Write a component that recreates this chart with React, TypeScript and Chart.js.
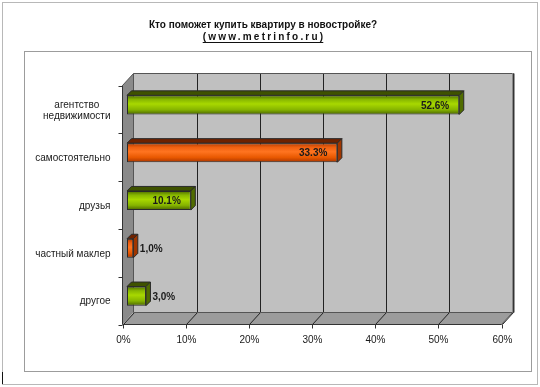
import { useEffect, useRef } from 'react';
import { Chart, registerables } from 'chart.js';

Chart.register(...registerables);

// ---- data ----
const chartTitle = 'Кто поможет купить квартиру в новостройке?';
const chartSubtitle = '(www.metrinfo.ru)';
const categories: string[][] = [
  ['агентство', 'недвижимости'],
  ['самостоятельно'],
  ['друзья'],
  ['частный маклер'],
  ['другое'],
];
const values = [52.6, 33.3, 10.1, 1.0, 3.0];
const valueLabels = ['52.6%', '33.3%', '10.1%', '1,0%', '3,0%'];
const xTickValues = [0, 10, 20, 30, 40, 50, 60];
const xTickLabels = ['0%', '10%', '20%', '30%', '40%', '50%', '60%'];

// ---- style ----
const FONT = '"Liberation Sans", Arial, sans-serif';
const barKinds = ['g', 'o', 'g', 'o', 'g'];
const greenStops: [number, string][] = [
  [0, '#4d6a00'], [0.22, '#88b800'], [0.45, '#a8d800'], [0.75, '#86b400'], [1, '#4a6400'],
];
const orangeStops: [number, string][] = [
  [0, '#b03a00'], [0.22, '#f06010'], [0.45, '#ff7420'], [0.75, '#e85800'], [1, '#a83400'],
];
const topColor: Record<string, string> = { g: '#3f5200', o: '#6e2200' };
const sideColor: Record<string, string> = { g: '#506c00', o: '#a03600' };
const BAR_OFF = { x: -4.5, y: 4.5 }; // bar plane -> front wall plane
const WALL = { x: 11, y: -12 };
const BD = { x: 4.5, y: -4.5 };

const excel3d = {
  id: 'excel3d',
  beforeDraw(chart: any) {
    const ctx = chart.ctx as CanvasRenderingContext2D;
    ctx.save();
    ctx.fillStyle = '#ffffff';
    ctx.fillRect(0, 0, chart.width, chart.height);
    ctx.lineWidth = 1;
    ctx.strokeStyle = '#b8b8b8';
    ctx.strokeRect(2.5, 2.5, 535, 382);
    ctx.strokeStyle = '#9c9c9c';
    ctx.strokeRect(24.5, 51.5, 507, 320);
    ctx.strokeStyle = '#111';
    ctx.beginPath();
    ctx.moveTo(2.5, 372);
    ctx.lineTo(2.5, 384);
    ctx.stroke();

    // title
    ctx.fillStyle = '#111';
    ctx.textAlign = 'center';
    ctx.textBaseline = 'middle';
    ctx.font = `bold 10px ${FONT}`;
    ctx.fillText(chartTitle, 263, 25);
    (ctx as any).letterSpacing = '2.2px';
    const w = ctx.measureText(chartSubtitle).width;
    ctx.fillText(chartSubtitle, 264, 37);
    (ctx as any).letterSpacing = '0px';
    ctx.beginPath();
    ctx.moveTo(263 - w / 2 + 1, 42.5);
    ctx.lineTo(263 + w / 2 - 1, 42.5);
    ctx.strokeStyle = '#111';
    ctx.stroke();
    ctx.restore();
  },
  beforeDatasetsDraw(chart: any) {
    const ctx = chart.ctx as CanvasRenderingContext2D;
    const xs = chart.scales.x;
    const ca = chart.chartArea;
    const fx = (v: number) => xs.getPixelForValue(v) + BAR_OFF.x;
    const top = ca.top + BAR_OFF.y;
    const bot = ca.bottom + BAR_OFF.y;
    const x0 = fx(xTickValues[0]);
    const x1 = fx(xTickValues[xTickValues.length - 1]);
    ctx.save();
    // back wall
    ctx.fillStyle = '#c0c0c0';
    ctx.fillRect(x0 + WALL.x, top + WALL.y, x1 - x0, bot - top);
    // left wall
    ctx.fillStyle = '#8a8a8a';
    ctx.beginPath();
    ctx.moveTo(x0, top);
    ctx.lineTo(x0 + WALL.x, top + WALL.y);
    ctx.lineTo(x0 + WALL.x, bot + WALL.y);
    ctx.lineTo(x0, bot);
    ctx.closePath();
    ctx.fill();
    // floor
    ctx.fillStyle = '#9c9c9c';
    ctx.beginPath();
    ctx.moveTo(x0, bot);
    ctx.lineTo(x0 + WALL.x, bot + WALL.y);
    ctx.lineTo(x1 + WALL.x, bot + WALL.y);
    ctx.lineTo(x1, bot);
    ctx.closePath();
    ctx.fill();

    ctx.lineWidth = 1;
    // grid lines on back wall and floor
    ctx.strokeStyle = '#222';
    xTickValues.forEach((v, i) => {
      const x = Math.round(fx(v)) + 0.5;
      ctx.beginPath();
      ctx.moveTo(x, bot);
      ctx.lineTo(x + WALL.x, bot + WALL.y);
      if (i > 0) ctx.lineTo(x + WALL.x, top + WALL.y);
      ctx.stroke();
    });
    // wall outlines
    ctx.strokeStyle = '#555';
    ctx.beginPath();
    ctx.moveTo(x0, top);
    ctx.lineTo(x0 + WALL.x, top + WALL.y);
    ctx.lineTo(x1 + WALL.x, top + WALL.y);
    ctx.stroke();
    ctx.beginPath();
    ctx.moveTo(x0 + WALL.x, top + WALL.y);
    ctx.lineTo(x0 + WALL.x, bot + WALL.y);
    ctx.lineTo(x1 + WALL.x, bot + WALL.y);
    ctx.stroke();
    ctx.strokeStyle = '#333';
    ctx.lineWidth = 2;
    ctx.beginPath();
    ctx.moveTo(Math.round(x1 + WALL.x) + 0.5, top + WALL.y);
    ctx.lineTo(Math.round(x1 + WALL.x) + 0.5, bot + WALL.y);
    ctx.stroke();
    ctx.lineWidth = 1;
    ctx.strokeStyle = '#555';
    ctx.beginPath();
    ctx.moveTo(x1, bot);
    ctx.lineTo(x1 + WALL.x, bot + WALL.y);
    ctx.stroke();

    // axes
    ctx.strokeStyle = '#333';
    ctx.beginPath();
    ctx.moveTo(x0, top);
    ctx.lineTo(x0, bot);
    ctx.lineTo(x1, bot);
    ctx.stroke();
    // category ticks
    const n = categories.length;
    const catH = (bot - top) / n;
    for (let k = 0; k <= n; k++) {
      const y = Math.round(top + k * catH) + 0.5;
      ctx.beginPath();
      ctx.moveTo(x0 - 4, y);
      ctx.lineTo(x0, y);
      ctx.stroke();
    }
    // value ticks and labels
    ctx.fillStyle = '#1a1a1a';
    ctx.font = `10px ${FONT}`;
    ctx.textAlign = 'center';
    ctx.textBaseline = 'middle';
    xTickValues.forEach((v, i) => {
      const x = Math.round(fx(v)) + 0.5;
      ctx.beginPath();
      ctx.moveTo(x, bot);
      ctx.lineTo(x, bot + 4);
      ctx.stroke();
      ctx.fillText(xTickLabels[i], x, bot + 16);
    });
    // category labels
    const labels = chart.data.labels as string[][];
    labels.forEach((lines, i) => {
      const yc = top + (i + 0.5) * catH + 1;
      const maxW = Math.max(...lines.map((l) => ctx.measureText(l).width));
      const cx = x0 - 12 - maxW / 2;
      const lh = 11;
      lines.forEach((l, j) => {
        ctx.fillText(l, cx, yc + (j - (lines.length - 1) / 2) * lh);
      });
    });
    ctx.restore();
  },
  afterDatasetsDraw(chart: any) {
    const ctx = chart.ctx as CanvasRenderingContext2D;
    const meta = chart.getDatasetMeta(0);
    ctx.save();
    ctx.lineWidth = 1;
    ctx.strokeStyle = '#2a2a2a';
    meta.data.forEach((el: any, i: number) => {
      const { x, y, base, height } = el.getProps(['x', 'y', 'base', 'height'], true);
      const t = y - height / 2;
      const b = y + height / 2;
      const k = barKinds[i];
      ctx.fillStyle = topColor[k];
      ctx.beginPath();
      ctx.moveTo(base, t);
      ctx.lineTo(base + BD.x, t + BD.y);
      ctx.lineTo(x + BD.x, t + BD.y);
      ctx.lineTo(x, t);
      ctx.closePath();
      ctx.fill();
      ctx.stroke();
      ctx.fillStyle = sideColor[k];
      ctx.beginPath();
      ctx.moveTo(x, t);
      ctx.lineTo(x + BD.x, t + BD.y);
      ctx.lineTo(x + BD.x, b + BD.y);
      ctx.lineTo(x, b);
      ctx.closePath();
      ctx.fill();
      ctx.stroke();

      ctx.font = `bold 10px ${FONT}`;
      ctx.fillStyle = '#1a1a1a';
      ctx.textBaseline = 'middle';
      const tw = ctx.measureText(valueLabels[i]).width;
      if (x - base > tw + 16) {
        ctx.textAlign = 'right';
        ctx.fillText(valueLabels[i], x - 10, y + 1);
      } else {
        ctx.textAlign = 'left';
        ctx.fillText(valueLabels[i], x + BD.x + 2, y + 1);
      }
    });
    ctx.restore();
  },
};

export default function App() {
  const ref = useRef<HTMLCanvasElement | null>(null);
  useEffect(() => {
    if (!ref.current) return;
    const chart = new Chart(ref.current, {
      type: 'bar',
      data: {
        labels: categories as any,
        datasets: [
          {
            data: values,
            backgroundColor: (c: any) => {
              const stops = barKinds[c.dataIndex] === 'g' ? greenStops : orangeStops;
              const ch = c.chart;
              const ca = ch.chartArea;
              if (!ca || c.type !== 'data' || !ch.scales.y) return stops[2][1];
              const yc = ch.scales.y.getPixelForValue(c.dataIndex);
              const h = ((ca.bottom - ca.top) / categories.length) * 0.4;
              const g = ch.ctx.createLinearGradient(0, yc - h / 2, 0, yc + h / 2);
              stops.forEach(([o, col]) => g.addColorStop(o, col));
              return g;
            },
            borderColor: '#2a2a2a',
            borderWidth: 1,
            borderSkipped: false,
            barPercentage: 0.4,
            categoryPercentage: 1,
          } as any,
        ],
      },
      options: {
        indexAxis: 'y',
        animation: false,
        responsive: false,
        devicePixelRatio: 1,
        layout: { padding: { left: 127, right: 34, top: 81, bottom: 67 } },
        scales: {
          x: { display: false, min: 0, max: 60 },
          y: { display: false },
        },
        plugins: {
          legend: { display: false },
          tooltip: { enabled: false },
        },
      },
      plugins: [excel3d],
    });
    return () => chart.destroy();
  }, []);
  return (
    <div style={{ position: 'fixed', left: 0, top: 0, width: 540, height: 387, background: '#fff' }}>
      <canvas ref={ref} width={540} height={387} style={{ display: 'block', width: 540, height: 387 }} />
    </div>
  );
}
